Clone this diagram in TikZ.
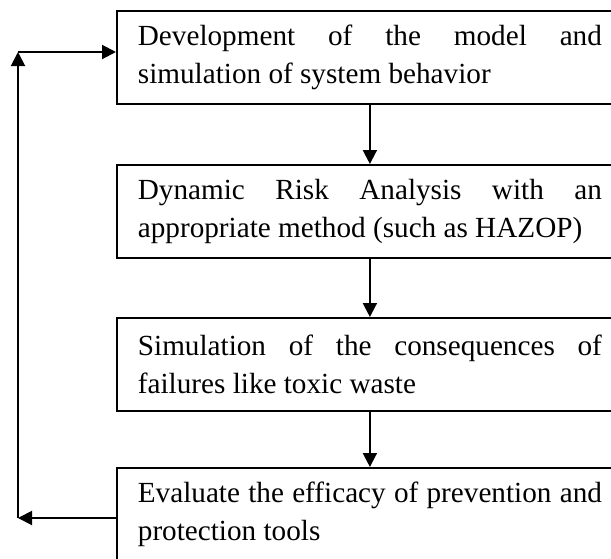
\documentclass[tikz,border=0pt]{standalone}
\usepackage{fontspec}
\setmainfont{Liberation Serif}
\usetikzlibrary{arrows.meta}
\hyphenpenalty=10000
\exhyphenpenalty=10000
\tolerance=10000

\tikzset{
  stepbox/.style={draw, line width=0.9pt, anchor=north west, text width=232pt,
    inner xsep=10.5pt, inner ysep=0pt, minimum height=46.5pt, align=justify,
    font=\fontsize{14.6}{19}\selectfont},
  flow/.style={line width=1pt, -{Triangle[length=7pt, width=7pt]}}
}

\begin{document}
\begin{tikzpicture}[x=0.5pt, y=-0.5pt]
      \useasboundingbox (0,0) rectangle (611,558);
      \clip (0,0) rectangle (611,558);
      \node[stepbox] (model) at (116,10) {Development of the model and simulation of system behavior};
      \node[stepbox] (risk) at (116,164) {Dynamic Risk Analysis with an appropriate method (such as HAZOP)};
      \node[stepbox] (conseq) at (116,317) {Simulation of the consequences of failures like toxic waste};
      \node[stepbox] (eval) at (116,467) {Evaluate the efficacy of prevention and protection tools};
      \coordinate (low) at (18,518);
      \coordinate (high) at (18,52);
      \draw[flow] (model) -- (risk);
      \draw[flow] (risk) -- (conseq);
      \draw[flow] (conseq) -- (eval);
      % feedback loop
      \draw[flow] (eval.west |- low) -- (low);
      \draw[flow] (low) -- (high);
      \draw[flow] (high) -- (model.west |- high);
\end{tikzpicture}
\end{document}
